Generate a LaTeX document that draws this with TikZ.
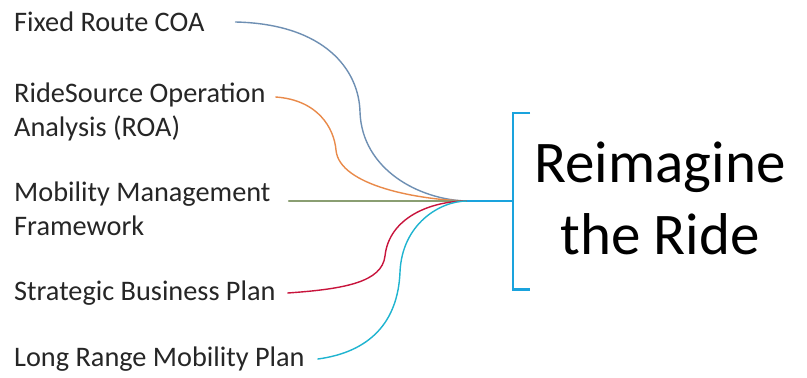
\documentclass[tikz,border=0pt]{standalone}
\usepackage{fontspec}
\setmainfont{Carlito}
\begin{document}
\begin{tikzpicture}[x=1pt,y=-1pt,
  lbl/.style={anchor=base west, inner sep=0pt, align=left,
              font=\fontsize{28.3}{34}\selectfont, text=black!85},
  feed/.style={line width=1.4pt, line cap=round},
  brace/.style={line width=2.6pt, draw=bluebr, line cap=butt}]
\definecolor{bluebr}{HTML}{1AA3DD}
\definecolor{cfix}{HTML}{6E8FB3}
\definecolor{croa}{HTML}{E98A4A}
\definecolor{cmob}{HTML}{8A9E72}
\definecolor{cstr}{HTML}{C8143C}
\definecolor{clong}{HTML}{1FB4D0}
\useasboundingbox (0,0) rectangle (807,378);
\fill[white] (0,0) rectangle (807,378);

% source labels (base anchor sits on the last text line)
\node[lbl] (fix) at (14,31) {Fixed Route COA};
\node[lbl] (roa) at (14,136) {RideSource Operation\\Analysis (ROA)};
\node[lbl] (mob) at (14,235) {Mobility Management\\Framework};
\node[lbl] (str) at (14,300) {Strategic Business Plan};
\node[lbl] (lng) at (14,366) {Long Range Mobility Plan};

% start points of the feeds, just right of the first text line
\coordinate (sfix) at ([xshift=31pt]fix.base east |- 0,22);
\coordinate (sroa) at ([xshift=10pt]roa.east |- 0,97);
\coordinate (smob) at ([xshift=18pt]mob.east |- 0,201);
\coordinate (sstr) at ([xshift=12pt]str.base east |- 0,293);
\coordinate (slng) at ([xshift=13pt]lng.base east |- 0,359);

% meeting point and bracket
\coordinate (hub) at (467,201);
\node[minimum width=17pt, minimum height=176pt, inner sep=0pt] (brk) at (521.5,201) {};
\node[font=\fontsize{59}{72}\selectfont, align=center, inner sep=0pt, text=black] (goal) at (660,198)
  {Reimagine\\the Ride};

% feeds into the hub
\draw[feed, cfix] (sfix) .. controls (325,24) and (359,70) .. (360,112)
                         .. controls (362,170) and (420,200) .. (hub);
\draw[feed, croa] (sroa) .. controls (318,100) and (334,128) .. (336,150)
                         .. controls (339,186) and (420,200) .. (hub);
\draw[feed, cmob] (smob) -- (hub);
\draw[feed, cstr] (sstr) .. controls (345,289) and (382,282) .. (385,256)
                         .. controls (389,218) and (430,201) .. (hub);
\draw[feed, clong] (slng) .. controls (370,352) and (398,322) .. (400,272)
                          .. controls (402,224) and (440,201) .. (hub);

% stem and bracket
\draw[brace] (hub) -- (brk.west);
\draw[brace] (brk.north east) -- (brk.north west) -- (brk.south west) -- (brk.south east);
\end{tikzpicture}
\end{document}
